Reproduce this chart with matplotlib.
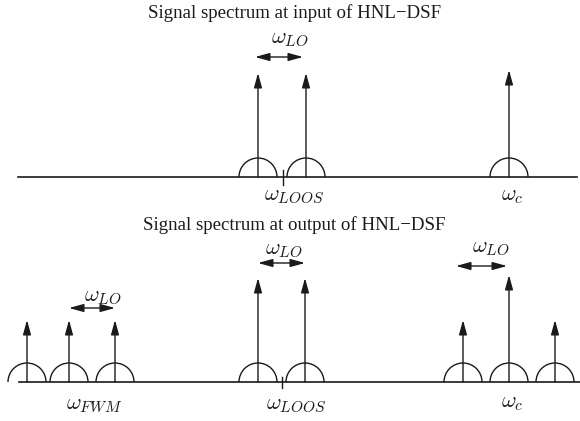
import matplotlib
matplotlib.use("Agg")
import matplotlib.pyplot as plt
from matplotlib.patches import FancyArrowPatch, Arc

plt.rcParams['mathtext.fontset'] = 'cm'

W, H = 580, 421
titles = ["Signal spectrum at input of HNL\u2212DSF", "Signal spectrum at output of HNL\u2212DSF"]

# top panel (input)
top_base = 177
top_arrow_x = [258, 306, 509]
top_arrow_tip = [73, 73, 70]
top_tick_x = 283
top_lo = (255, 303, 57)
top_labels = [(r"$\omega_{LOOS}$", 294, 196), (r"$\omega_c$", 512, 196), (r"$\omega_{LO}$", 290, 39)]

# bottom panel (output)
bot_base = 382
bot_arrow_x = [27, 69, 115, 258, 305, 463, 509, 555]
bot_arrow_tip = [320, 320, 320, 278, 278, 320, 275, 320]
bot_tick_x = 282
bot_lo = [(69, 115, 308), (258, 305, 263), (456, 507, 266)]
bot_labels = [(r"$\omega_{FWM}$", 94, 405), (r"$\omega_{LOOS}$", 296, 405), (r"$\omega_c$", 512, 403),
              (r"$\omega_{LO}$", 103, 297), (r"$\omega_{LO}$", 284, 250), (r"$\omega_{LO}$", 491, 248)]

R = 19

fig = plt.figure(figsize=(W / 100, H / 100), dpi=100)
ax = fig.add_axes([0, 0, 1, 1])
ax.set_xlim(0, W)
ax.set_ylim(H, 0)
ax.axis('off')

col = '#1a1a1a'
lw = 1.0
astyle = '-|>,head_length=0.8,head_width=0.22'
dstyle = '<|-|>,head_length=0.8,head_width=0.22'


def arrow(x, y0, y1):
    ax.add_patch(FancyArrowPatch((x, y0), (x, y1), arrowstyle=astyle, mutation_scale=11,
                                 color=col, lw=lw, shrinkA=0, shrinkB=0))


def darrow(x0, x1, y):
    ax.add_patch(FancyArrowPatch((x0, y), (x1, y), arrowstyle=dstyle, mutation_scale=11,
                                 color=col, lw=lw, shrinkA=0, shrinkB=0))


def semi(x, y):
    ax.add_patch(Arc((x, y), 2 * R, 2 * R, theta1=180, theta2=360, color=col, lw=lw))


# titles
ax.text(295, 13, titles[0], ha='center', va='center', fontsize=13.6, family='Liberation Serif', color=col)
ax.text(294, 225, titles[1], ha='center', va='center', fontsize=13.6, family='Liberation Serif', color=col)

# top
ax.plot([18, 577], [top_base, top_base], color=col, lw=1.2)
for x, t in zip(top_arrow_x, top_arrow_tip):
    arrow(x, top_base, t)
    semi(x, top_base)
ax.plot([top_tick_x, top_tick_x], [170, 185], color=col, lw=lw)
darrow(*top_lo)
for s, x, y in top_labels:
    ax.text(x, y, s, ha='center', va='center', fontsize=16, color=col)

# bottom
ax.plot([19, 580], [bot_base, bot_base], color=col, lw=1.2)
for x, t in zip(bot_arrow_x, bot_arrow_tip):
    arrow(x, bot_base, t)
    semi(x, bot_base)
ax.plot([bot_tick_x, bot_tick_x], [377, 388], color=col, lw=lw)
for lo in bot_lo:
    darrow(*lo)
for s, x, y in bot_labels:
    ax.text(x, y, s, ha='center', va='center', fontsize=16, color=col)

fig.savefig('out.png', dpi=100)
